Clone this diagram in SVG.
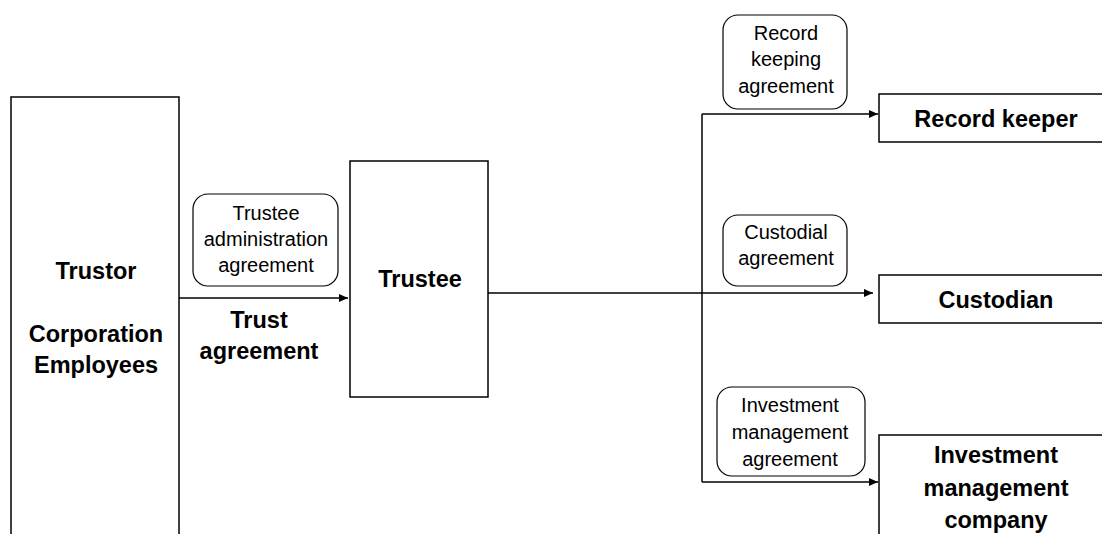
<svg xmlns="http://www.w3.org/2000/svg" width="1102" height="534" viewBox="0 0 1102 534">
<style>
.box{fill:#fff;stroke:#000;stroke-width:1.5}
.lbl{fill:#fff;stroke:#000;stroke-width:1.2}
.b{font-family:"Liberation Sans",Arial,sans-serif;font-weight:bold;font-size:23.5px;text-anchor:middle;fill:#000}
.n{font-family:"Liberation Sans",Arial,sans-serif;font-size:20px;text-anchor:middle;fill:#000}
.c{fill:none;stroke:#000;stroke-width:1.5}
</style>
<defs>
<marker id="ah" markerWidth="10" markerHeight="8" refX="9" refY="4" orient="auto" markerUnits="userSpaceOnUse">
<path d="M0,0 L9,4 L0,8 z" fill="#000"/>
</marker>
</defs>
<rect width="1102" height="534" fill="#fff"/>
<g id="connectors">
<path class="c" d="M179,298 H348" marker-end="url(#ah)"/>
<path class="c" d="M488,293 H873" marker-end="url(#ah)"/>
<path class="c" d="M702,114 V482" />
<path class="c" d="M702,114 H878" marker-end="url(#ah)"/>
<path class="c" d="M702,482 H878" marker-end="url(#ah)"/>
</g>
<g id="trustor">
<rect class="box" x="11" y="97" width="168" height="450"/>
<text class="b" x="96" y="279">Trustor</text>
<text class="b" x="96" y="342">Corporation</text>
<text class="b" x="96" y="373">Employees</text>
</g>
<g id="trustee-admin-label">
<rect class="lbl" x="193" y="194" width="145" height="92" rx="15"/>
<text class="n" x="266" y="220">Trustee</text>
<text class="n" x="266" y="246">administration</text>
<text class="n" x="266" y="272">agreement</text>
</g>
<g id="trust-agreement-label">
<text class="b" x="259" y="328">Trust</text>
<text class="b" x="259" y="359">agreement</text>
</g>
<g id="trustee">
<rect class="box" x="350" y="161" width="138" height="236"/>
<text class="b" x="420" y="287">Trustee</text>
</g>
<g id="record-keeping-label">
<rect class="lbl" x="723" y="15" width="124" height="94" rx="15"/>
<text class="n" x="786" y="40">Record</text>
<text class="n" x="786" y="66">keeping</text>
<text class="n" x="786" y="93">agreement</text>
</g>
<g id="record-keeper">
<rect class="box" x="879" y="94" width="240" height="48"/>
<text class="b" x="996" y="127">Record keeper</text>
</g>
<g id="custodial-label">
<rect class="lbl" x="723" y="215" width="124" height="71" rx="15"/>
<text class="n" x="786" y="239">Custodial</text>
<text class="n" x="786" y="265">agreement</text>
</g>
<g id="custodian">
<rect class="box" x="879" y="275" width="240" height="48"/>
<text class="b" x="996" y="308">Custodian</text>
</g>
<g id="investment-label">
<rect class="lbl" x="717" y="387" width="148" height="89" rx="15"/>
<text class="n" x="790" y="412">Investment</text>
<text class="n" x="790" y="439">management</text>
<text class="n" x="790" y="466">agreement</text>
</g>
<g id="investment-company">
<rect class="box" x="879" y="435" width="240" height="120"/>
<text class="b" x="996" y="463">Investment</text>
<text class="b" x="996" y="496">management</text>
<text class="b" x="996" y="528">company</text>
</g>
</svg>
